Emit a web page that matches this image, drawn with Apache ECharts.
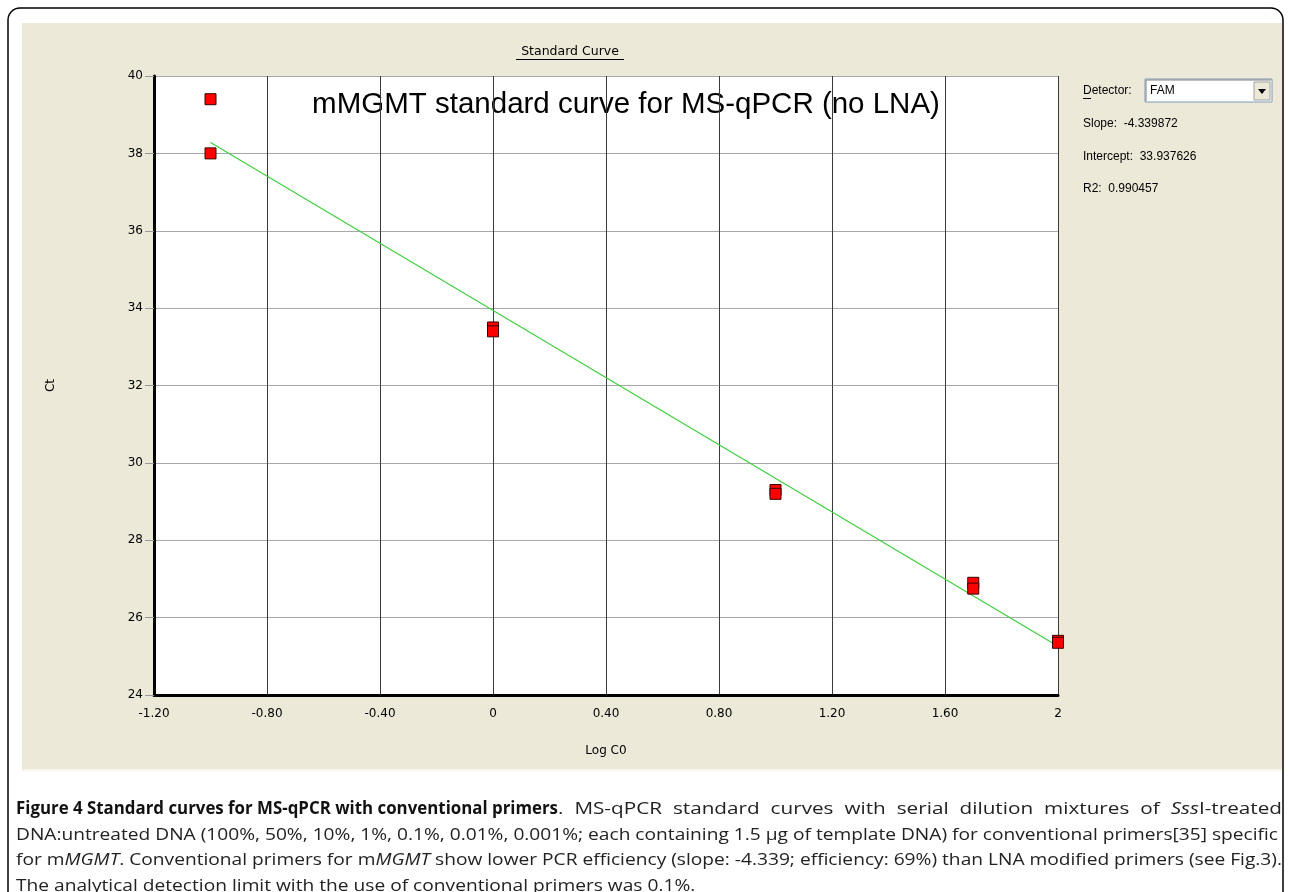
<!DOCTYPE html>
<html>
<head>
<meta charset="utf-8">
<script src="https://cdn.jsdelivr.net/npm/echarts@6/dist/echarts.min.js"></script>
<style>
html,body{margin:0;padding:0;background:#fff;}
#chart{position:absolute;left:0;top:0;width:1290px;height:892px;}
#caption{position:absolute;left:16px;top:795px;width:1266px;font-family:"Open Sans",sans-serif;font-size:17px;line-height:25.5px;color:#222;}
#caption .ln{white-space:nowrap;display:block;height:25.5px;}
#caption span.in{display:inline-block;transform-origin:0 50%;}
#caption b{font-weight:bold;color:#111;}
</style>
</head>
<body>
<div id="chart"></div>
<div id="caption">
<div class="ln"><span class="in" data-w="542"><b>Figure 4 Standard curves for MS-qPCR with conventional primers</b></span><span class="in" data-w="724" data-j="1">. MS-qPCR standard curves with serial dilution mixtures of <i>Sss</i>I-treated</span></div>
<div class="ln"><span class="in" data-w="1262">DNA:untreated DNA (100%, 50%, 10%, 1%, 0.1%, 0.01%, 0.001%; each containing 1.5 µg of template DNA) for conventional primers[35] specific</span></div>
<div class="ln"><span class="in" data-w="1266">for m<i>MGMT</i>. Conventional primers for m<i>MGMT</i> show lower PCR efficiency (slope: -4.339; efficiency: 69%) than LNA modified primers (see Fig.3).</span></div>
<div class="ln"><span class="in" data-w="0">The analytical detection limit with the use of conventional primers was 0.1%.</span></div>
</div>
<script>
// ---- data ----
var logC0 = [-1, -1, 0, 0, 1, 1, 1.7, 1.7, 2, 2];
var ctValues = [39.4, 38.0, 33.5, 33.4, 29.3, 29.2, 26.9, 26.75, 25.4, 25.35];
var fitX = [-1, 2];
var fitY = [38.28, 25.26];
var xTickLabels = ['-1.20', '-0.80', '-0.40', '0', '0.40', '0.80', '1.20', '1.60', '2'];
var yTickLabels = ['24', '26', '28', '30', '32', '34', '36', '38', '40'];
var panelTexts = ['Slope:  -4.339872', 'Intercept:  33.937626', 'R2:  0.990457'];
var chartTitle = 'mMGMT standard curve for MS-qPCR (no LNA)';

// fit caption pieces to the widths of the reference (condensed, justified type)
(function () {
  var spans = Array.prototype.slice.call(document.querySelectorAll('#caption span.in'));
  var scales = [];
  spans.forEach(function (sp) {
    var w = +sp.getAttribute('data-w');
    if (w > 0 && !sp.getAttribute('data-j') && sp.textContent.indexOf('Figure') !== 0) {
      scales.push(w / sp.getBoundingClientRect().width);
    }
  });
  var avg = scales.reduce(function (a, b) { return a + b; }, 0) / scales.length;
  spans.forEach(function (sp) {
    var w = +sp.getAttribute('data-w');
    var s;
    if (sp.getAttribute('data-j')) {
      var nat0 = sp.getBoundingClientRect().width;
      s = (avg + w / nat0) / 2;
      var nSpaces = (sp.textContent.match(/ /g) || []).length;
      var extra = (w / s - nat0) / nSpaces;
      sp.style.wordSpacing = extra + 'px';
    } else if (w > 0) {
      s = w / sp.getBoundingClientRect().width;
    } else {
      s = avg;
    }
    var nat = sp.getBoundingClientRect().width;
    sp.style.transform = 'scaleX(' + s + ')';
    sp.style.marginRight = (nat * s - nat) + 'px';
  });
})();

var chart = echarts.init(document.getElementById('chart'), null, {renderer: 'canvas'});
var xMin = -1.2, xMax = 2, xStep = 0.4;
var yMin = 24, yMax = 40, yStep = 2;
var font = 'DejaVu Sans';
var ui = 'Liberation Sans';

var scatterData = logC0.map(function (x, i) { return [x, ctValues[i]]; });
var lineData = fitX.map(function (x, i) { return [x, fitY[i]]; });

var option = {
  backgroundColor: '#ffffff',
  animation: false,
  grid: {left: 154, top: 76, width: 904, height: 619, containLabel: false},
  xAxis: {
    type: 'value', min: xMin, max: xMax, interval: xStep,
    name: 'Log C0', nameLocation: 'middle', nameGap: 50,
    nameTextStyle: {fontFamily: font, fontSize: 12, color: '#000'},
    axisLine: {show: true, onZero: false, lineStyle: {color: '#000', width: 3}},
    axisTick: {show: false},
    axisLabel: {
      margin: 13, fontFamily: font, fontSize: 12, color: '#000',
      formatter: function (v) { return xTickLabels[Math.round((v - xMin) / xStep)]; }
    },
    splitLine: {show: true, lineStyle: {color: '#3a3a3a', width: 1}}
  },
  yAxis: {
    type: 'value', min: yMin, max: yMax, interval: yStep,
    name: 'Ct', nameLocation: 'middle', nameGap: 97, nameRotate: 90,
    nameTextStyle: {fontFamily: font, fontSize: 12, color: '#000'},
    axisLine: {show: true, onZero: false, lineStyle: {color: '#000', width: 3}},
    axisTick: {show: true, length: 9, lineStyle: {color: '#999'}},
    axisLabel: {
      margin: 11, fontFamily: font, fontSize: 12, color: '#000',
      formatter: function (v) { return yTickLabels[Math.round((v - yMin) / yStep)]; }
    },
    splitLine: {show: true, lineStyle: {color: '#a8a8a8', width: 1}}
  },
  graphic: [
    {type: 'rect', z: -30, shape: {x: 8, y: 8, width: 1275, height: 920, r: 12},
     style: {fill: '#fff', stroke: '#000', lineWidth: 1.5}},
    {type: 'rect', z: -20, shape: {x: 22, y: 23, width: 1260, height: 746},
     style: {fill: '#ece9d8'}},
    {type: 'rect', z: -19, shape: {x: 22, y: 769, width: 1260, height: 2},
     style: {fill: '#f7f5ee'}},
    {type: 'rect', z: -10, shape: {x: 154, y: 76, width: 904, height: 619},
     style: {fill: '#ffffff'}},
    {type: 'text', z: -5, x: 626, y: 105,
     style: {text: chartTitle, fontFamily: ui, fontSize: 29.5, fill: '#000', align: 'center', verticalAlign: 'middle'}},
    {type: 'text', x: 570, y: 52,
     style: {text: 'Standard Curve', fontFamily: font, fontSize: 12.5, fill: '#000', align: 'center', verticalAlign: 'middle'}},
    {type: 'line', shape: {x1: 516, y1: 59.5, x2: 624, y2: 59.5}, style: {stroke: '#000', lineWidth: 1}},
    {type: 'text', x: 1083, y: 91,
     style: {text: 'Detector:', fontFamily: ui, fontSize: 12, fill: '#000', align: 'left', verticalAlign: 'middle'}},
    {type: 'line', shape: {x1: 1083, y1: 98.5, x2: 1091, y2: 98.5}, style: {stroke: '#000', lineWidth: 1}},
    {type: 'rect', shape: {x: 1145, y: 79, width: 127, height: 23},
     style: {fill: '#fff', stroke: '#7f9db9', lineWidth: 1}},
    {type: 'line', shape: {x1: 1146, y1: 80, x2: 1271, y2: 80}, style: {stroke: '#808080', lineWidth: 1}},
    {type: 'line', shape: {x1: 1146, y1: 80, x2: 1146, y2: 101}, style: {stroke: '#808080', lineWidth: 1}},
    {type: 'text', x: 1150, y: 91,
     style: {text: 'FAM', fontFamily: ui, fontSize: 12, fill: '#000', align: 'left', verticalAlign: 'middle'}},
    {type: 'rect', shape: {x: 1254, y: 82, width: 16, height: 18},
     style: {fill: '#ece9d8', stroke: '#a0a0a0', lineWidth: 1}},
    {type: 'polygon', shape: {points: [[1258, 89], [1266, 89], [1262, 94]]}, style: {fill: '#000'}},
    {type: 'text', x: 1083, y: 124,
     style: {text: panelTexts[0], fontFamily: ui, fontSize: 12, fill: '#000', align: 'left', verticalAlign: 'middle'}},
    {type: 'text', x: 1083, y: 157,
     style: {text: panelTexts[1], fontFamily: ui, fontSize: 12, fill: '#000', align: 'left', verticalAlign: 'middle'}},
    {type: 'text', x: 1083, y: 189,
     style: {text: panelTexts[2], fontFamily: ui, fontSize: 12, fill: '#000', align: 'left', verticalAlign: 'middle'}}
  ],
  series: [
    {type: 'line', data: lineData, symbol: 'none', z: 3,
     lineStyle: {color: '#3fcf3f', width: 1.2}},
    {type: 'scatter', data: scatterData, symbol: 'rect', symbolSize: 11, z: 4,
     itemStyle: {color: '#ff0000', borderColor: '#3a0000', borderWidth: 1, opacity: 1}}
  ]
};
chart.setOption(option);
</script>
</body>
</html>
